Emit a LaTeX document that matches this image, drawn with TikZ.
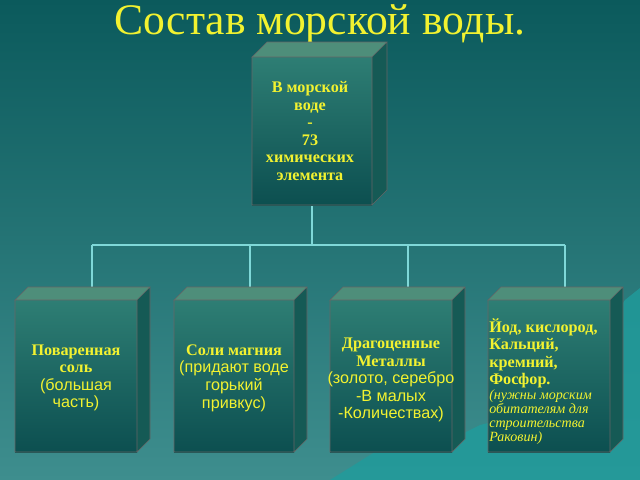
\documentclass[tikz,border=0pt]{standalone}
\usepackage{fontspec}
\setmainfont{Liberation Serif}
\newfontfamily\sansf{Liberation Sans}
\definecolor{bgtop}{HTML}{0B5A5C}
\definecolor{bgbot}{HTML}{3E8E8E}
\definecolor{facetop}{HTML}{2E7E74}
\definecolor{facebot}{HTML}{0C4F50}
\definecolor{sidec}{HTML}{155A55}
\definecolor{topc}{HTML}{4E8E7A}
\definecolor{txt}{HTML}{F2F230}
\definecolor{linec}{HTML}{7FD8D8}
\definecolor{mount}{HTML}{1F9C9C}
\newcommand{\pl}[1]{{\sansf\mdseries #1}}
\newcommand{\ns}[1]{{\mdseries\itshape\fontsize{10}{11}\selectfont #1}}
\begin{document}
\begin{tikzpicture}[x=0.025cm, y=-0.025cm,
  btext/.style={text=txt, align=center, font=\bfseries\fontsize{11.5}{12.5}\selectfont},
  conn/.style={draw=linec, line width=1.2pt}]
% background
\shade[top color=bgtop, bottom color=bgbot] (0,0) rectangle (640,480);
\useasboundingbox (0,0) rectangle (640,480);
\fill[mount, opacity=0.8] (330,480) -- (370,455) -- (410,432) -- (440,445) -- (480,425) -- (520,415) -- (560,395) -- (600,340) -- (625,300) -- (640,288) -- (640,480) -- cycle;
\node[text=txt, font=\fontsize{31}{34}\selectfont] (title) at (320,24) {Состав морской воды.};
% boxes: \cube{x0}{y0}{x1}{y1}{depth}
\newcommand{\cube}[5]{%
  \fill[topc] (#1,#2) -- ++(#5,-#5) -- (#3+#5,#2-#5) -- (#3,#2) -- cycle;
  \fill[sidec] (#3,#2) -- (#3+#5,#2-#5) -- (#3+#5,#4-#5) -- (#3,#4) -- cycle;
  \shade[top color=facetop, bottom color=facebot] (#1,#2) rectangle (#3,#4);
  \draw[black!60, thin] (#1,#2) -- ++(#5,-#5) -- (#3+#5,#2-#5) -- (#3,#2) -- cycle
    (#3+#5,#2-#5) -- (#3+#5,#4-#5) -- (#3,#4) (#1,#2) rectangle (#3,#4);}
% connectors
\coordinate (hub) at (312,245);
\draw[conn] (312,205) -- (hub);
\draw[conn] (92,245) -- (565,245);
\foreach \x in {92,250,408,565} \draw[conn] (\x,245) -- (\x,290);
\cube{252}{57}{372}{205}{15}
\cube{15}{300}{137}{452}{13}
\cube{174}{300}{294}{452}{13}
\cube{330}{300}{452}{452}{13}
\cube{488}{300}{610}{452}{13}
\node[btext] (root) at (310,131) {В морской\\воде\\-\\73\\химических\\элемента};
\node[btext] (salt) at (76,378) {Поваренная\\соль\\\pl{(большая}\\\pl{часть)}};
\node[btext] (mag) at (234,378) {Соли магния\\\pl{(придают воде}\\\pl{горький}\\\pl{привкус)}};
\node[btext] (met) at (391,380) {Драгоценные\\Металлы\\\pl{(золото, серебро}\\\pl{-В малых}\\\pl{-Количествах)}};
\node[btext, align=left, anchor=north west, inner sep=0pt] (iod) at (489,318) {Йод, кислород,\\Кальций,\\кремний,\\Фосфор.\\[-2pt]\ns{(нужны морским}\\[-2.5pt]\ns{обитателям для}\\[-2.5pt]\ns{строительства}\\[-2.5pt]\ns{Раковин)}};
\end{tikzpicture}
\end{document}
